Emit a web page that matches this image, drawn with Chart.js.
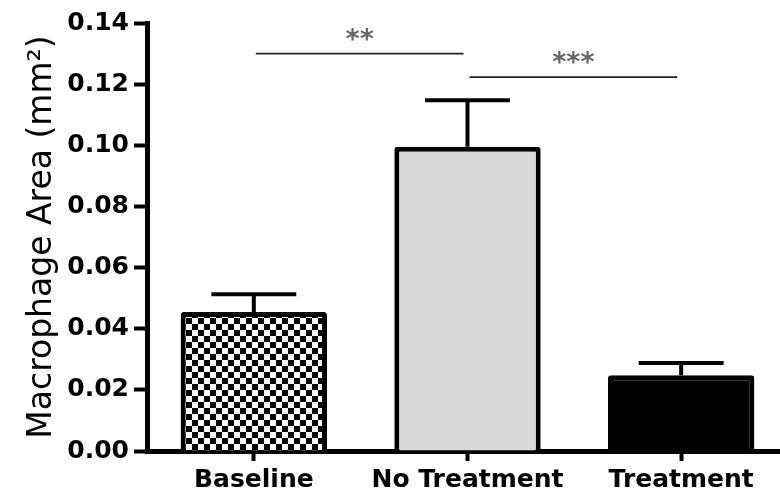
<!DOCTYPE html>
<html>
<head>
<meta charset="utf-8">
<script src="https://cdn.jsdelivr.net/npm/chart.js@4"></script>
<style>
html,body{margin:0;padding:0;background:#fff;overflow:hidden;}
#wrap{position:relative;width:790px;height:498px;}
</style>
</head>
<body>
<div id="wrap"><canvas id="c"></canvas></div>
<script>
// ---- data ----
const categories = ['Baseline', 'No Treatment', 'Treatment'];
const means = [0.0455, 0.0995, 0.0248];
const errorUpper = [0.0513, 0.1147, 0.0288];
const yTicks = [0.00, 0.02, 0.04, 0.06, 0.08, 0.10, 0.12, 0.14];
const sigFrom = [0, 1];
const sigTo = [1, 2];
const sigLevel = [0.130, 0.1223];
const sigLabel = ['**', '***'];

// checkerboard pattern
function checker() {
  const p = document.createElement('canvas');
  p.width = 12; p.height = 12;
  const g = p.getContext('2d');
  g.fillStyle = '#fff'; g.fillRect(0, 0, 12, 12);
  g.fillStyle = '#000';
  g.fillRect(0, 0, 6, 6); g.fillRect(6, 6, 6, 6);
  return document.getElementById('c').getContext('2d').createPattern(p, 'repeat');
}

const errorBars = {
  id: 'errorBars',
  afterDatasetsDraw(chart) {
    const ctx = chart.ctx;
    const meta = chart.getDatasetMeta(0);
    const ys = chart.scales.y;
    ctx.save();
    ctx.strokeStyle = '#000';
    ctx.lineWidth = 4;
    meta.data.forEach((bar, i) => {
      const yTop = ys.getPixelForValue(errorUpper[i]);
      const half = bar.width * 0.29;
      ctx.beginPath();
      ctx.moveTo(bar.x, bar.y);
      ctx.lineTo(bar.x, yTop);
      ctx.moveTo(bar.x - half, yTop);
      ctx.lineTo(bar.x + half, yTop);
      ctx.stroke();
    });
    ctx.restore();
  }
};

const sigPlugin = {
  id: 'sig',
  afterDatasetsDraw(chart) {
    const ctx = chart.ctx;
    const xs = chart.scales.x, ys = chart.scales.y;
    ctx.save();
    for (let k = 0; k < sigLevel.length; k++) {
      const x1 = xs.getPixelForValue(sigFrom[k]) + 2;
      const x2 = xs.getPixelForValue(sigTo[k]) - 4;
      const y = ys.getPixelForValue(sigLevel[k]);
      ctx.strokeStyle = '#222';
      ctx.lineWidth = 1.8;
      ctx.beginPath();
      ctx.moveTo(x1, y); ctx.lineTo(x2, y);
      ctx.stroke();
      ctx.fillStyle = '#666';
      ctx.font = 'bold 27px "DejaVu Sans"';
      ctx.textAlign = 'center';
      ctx.textBaseline = 'alphabetic';
      ctx.fillText(sigLabel[k], (x1 + x2) / 2, y - 6);
    }
    ctx.restore();
  }
};

const chart = new Chart(document.getElementById('c'), {
  type: 'bar',
  data: {
    labels: categories,
    datasets: [{
      data: means,
      backgroundColor: [checker(), '#d9d9d9', '#000'],
      borderColor: '#000',
      borderWidth: 5,
      borderRadius: 3,
      borderSkipped: 'bottom',
      categoryPercentage: 1,
      barPercentage: 0.685
    }]
  },
  options: {
    responsive: true,
    maintainAspectRatio: false,
    animation: false,
    layout: { padding: { top: 23, right: 2, left: 0, bottom: 0 } },
    plugins: { legend: { display: false }, tooltip: { enabled: false } },
    scales: {
      x: {
        offset: true,
        grid: { display: true, drawOnChartArea: false, drawTicks: true, offset: false,
                tickLength: 10, tickWidth: 4, tickColor: '#000' },
        border: { display: true, color: '#000', width: 5 },
        ticks: { color: '#000', padding: 4, font: { family: 'DejaVu Sans', size: 25, weight: 'bold' } },
        afterFit(s) { s.height = 47; }
      },
      y: {
        min: 0, max: 0.14,
        afterBuildTicks(s) { s.ticks = yTicks.map(v => ({ value: v })); },
        grid: { display: true, drawOnChartArea: false, drawTicks: true,
                tickLength: 13, tickWidth: 4, tickColor: '#000' },
        border: { display: true, color: '#000', width: 5 },
        ticks: { color: '#000', padding: 5, font: { family: 'DejaVu Sans', size: 25, weight: 'bold' },
                 callback: v => Number(v).toFixed(2) },
        title: { display: true, text: 'Macrophage Area (mm²)', color: '#000',
                 font: { family: 'DejaVu Sans', size: 33 }, padding: { top: 23, bottom: 0 } },
        afterFit(s) { s.width = 147; }
      }
    }
  },
  plugins: [errorBars, sigPlugin]
});
</script>
</body>
</html>
